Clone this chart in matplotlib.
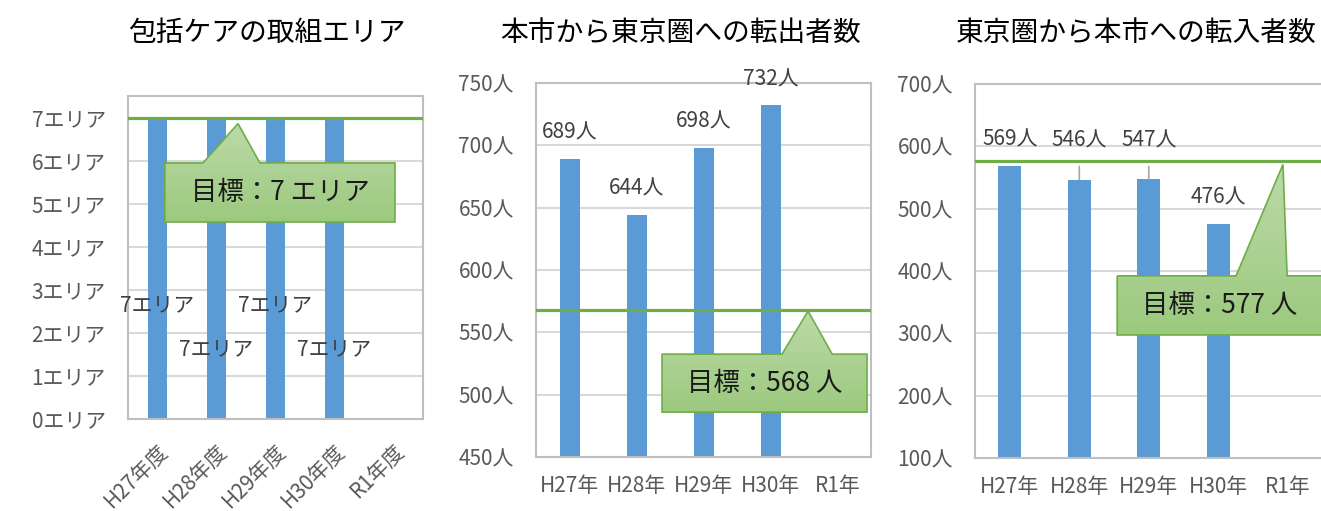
import numpy as np
import matplotlib.pyplot as plt
from matplotlib.patches import Polygon
from matplotlib.colors import LinearSegmentedColormap

plt.rcParams['font.family'] = ['Noto Sans CJK JP', 'DejaVu Sans']

# data
fiscal_years = ["H27年度", "H28年度", "H29年度", "H30年度", "R1年度"]
years = ["H27年", "H28年", "H29年", "H30年", "R1年"]

care_areas = [7, 7, 7, 7]
care_target = 7
out_to_tokyo = [689, 644, 698, 732]
out_target = 568
in_from_tokyo = [569, 546, 547, 476]
in_target = 577

BAR = "#5b9bd5"
GREEN = "#70ad47"
GRID = "#d9d9d9"
FRAME = "#bfbfbf"
TICK = "#595959"
LABEL = "#404040"
FS = 15


def setup_axes(ax, n, ymin, ymax, step, fmt):
    ax.set_xlim(-0.5, n - 0.5)
    ax.set_ylim(ymin, ymax)
    ticks = np.arange(ymin, ymax + 0.001, step)
    ax.set_yticks(ticks)
    ax.set_yticklabels([fmt(v) for v in ticks])
    ax.grid(axis="y", color=GRID, linewidth=1.5, zorder=0)
    ax.set_axisbelow(True)
    for s in ax.spines.values():
        s.set_color(FRAME)
        s.set_linewidth(1.5)
    ax.tick_params(length=0, labelsize=FS, colors=TICK, pad=16)


def callout(ax, box, base, tip, text, ymin, ymax):
    # box: (x0, x1, y_bot, y_top) in axes fraction, tip y in data units
    x0, x1, yb, yt = box
    tx, tyv = tip
    ty = (tyv - ymin) / (ymax - ymin)
    verts = [(x0, yt), (base[0], yt), (tx, ty), (base[1], yt), (x1, yt),
             (x1, yb), (x0, yb)]
    poly = Polygon(verts, closed=True, transform=ax.transAxes,
                   facecolor="none", edgecolor=GREEN, linewidth=1.2,
                   zorder=6, clip_on=False)
    ax.add_patch(poly)
    grad = np.linspace(0, 1, 100).reshape(-1, 1)
    cmap = LinearSegmentedColormap.from_list("g", ["#9cc97e", "#bcdaa9"])
    im = ax.imshow(grad, cmap=cmap, aspect="auto", origin="lower",
                   extent=(x0, x1, yb, ty), transform=ax.transAxes,
                   zorder=5)
    im.set_clip_path(poly)
    im.set_clip_box(None)
    im.set_clip_on(True)
    cx = (x0 + min(x1, 1.0)) / 2
    ax.text(cx, (yb + yt) / 2, text, transform=ax.transAxes,
            ha="center", va="center", fontsize=19, color="#1a1a1a",
            zorder=7)


fig = plt.figure(figsize=(13.21, 5.11), dpi=100)

# panel 1
ax1 = fig.add_axes([0.0969, 0.180, 0.2233, 0.632])
x = np.arange(len(care_areas))
ax1.bar(x, care_areas, width=0.31, color=BAR, zorder=2)
ax1.axhline(care_target, color=GREEN, linewidth=2.3, zorder=4)
callout(ax1, (0.125, 0.905, 0.610, 0.793), (0.254, 0.447), (0.373, 6.86),
        "目標：7 エリア", 0, 7.5)
setup_axes(ax1, len(fiscal_years), 0, 7, 1, lambda v: f"{int(v)}エリア")
ax1.set_ylim(0, 7.5)
ax1.set_xticks(np.arange(len(fiscal_years)))
ax1.set_xticklabels(fiscal_years, rotation=45, ha="right",
                    rotation_mode="anchor")
ax1.tick_params(axis="x", pad=15)
label_y = [2.64, 1.62, 2.64, 1.62]
for i, v in enumerate(care_areas):
    ax1.text(i, label_y[i], f"{v}エリア", ha="center", va="center",
             fontsize=FS, color=LABEL, zorder=3)
fig.text(0.202, 0.935, "包括ケアの取組エリア", ha="center", va="center",
         fontsize=20)

# panel 2
ax2 = fig.add_axes([0.4058, 0.1057, 0.2536, 0.7319])
x = np.arange(len(out_to_tokyo))
ax2.bar(x, out_to_tokyo, width=0.3, color=BAR, zorder=2)
ax2.axhline(out_target, color=GREEN, linewidth=2.3, zorder=4)
callout(ax2, (0.376, 0.988, 0.120, 0.275), (0.734, 0.884), (0.812, 567),
        "目標：568 人", 450, 750)
setup_axes(ax2, len(years), 450, 750, 50, lambda v: f"{int(v)}人")
ax2.set_xticks(np.arange(len(years)))
ax2.set_xticklabels(years)
ax2.tick_params(axis="x", pad=13)
for i, v in enumerate(out_to_tokyo):
    ax2.annotate(f"{v}人", (i, v), xytext=(0, 19), textcoords="offset points",
                 ha="center", va="center", fontsize=FS, color=LABEL,
                 annotation_clip=False)
fig.text(0.515, 0.935, "本市から東京圏への転出者数", ha="center",
         va="center", fontsize=20)

# panel 3
ax3 = fig.add_axes([0.7381, 0.1037, 0.2631, 0.7319])
x = np.arange(len(in_from_tokyo))
ax3.bar(x, in_from_tokyo, width=0.33, color=BAR, zorder=2)
ax3.axhline(in_target, color=GREEN, linewidth=2.3, zorder=4)
callout(ax3, (0.409, 1.05, 0.329, 0.487), (0.751, 0.898), (0.886, 571),
        "目標：577 人", 100, 700)
setup_axes(ax3, len(years), 100, 700, 100, lambda v: f"{int(v)}人")
ax3.set_xticks(np.arange(len(years)))
ax3.set_xticklabels(years)
ax3.tick_params(axis="x", pad=13)
moved = {1: 610, 2: 610}
for i, v in enumerate(in_from_tokyo):
    if i in moved:
        ax3.annotate(f"{v}人", (i, v), xytext=(i, moved[i]),
                     textcoords="data", ha="center", va="center",
                     fontsize=FS, color=LABEL, zorder=3,
                     arrowprops=dict(arrowstyle="-", color="#a6a6a6",
                                     linewidth=1.2, shrinkA=9, shrinkB=0))
    else:
        ax3.annotate(f"{v}人", (i, v), xytext=(0, 19),
                     textcoords="offset points", ha="center", va="center",
                     fontsize=FS, color=LABEL)
fig.text(0.860, 0.935, "東京圏から本市への転入者数", ha="center",
         va="center", fontsize=20)

fig.savefig("out.png", dpi=100)
